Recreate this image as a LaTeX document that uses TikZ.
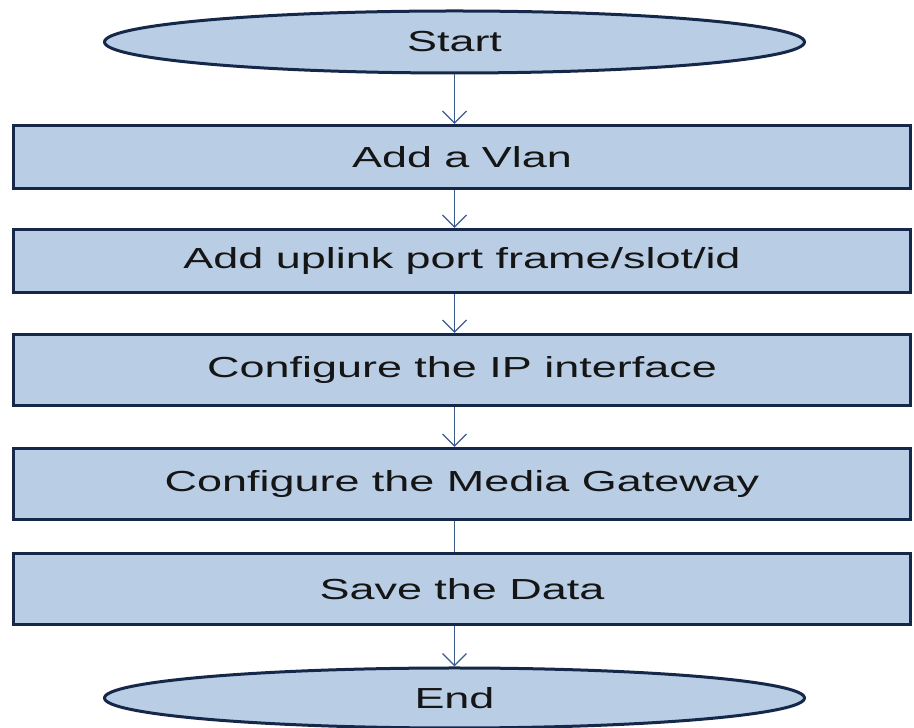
\documentclass[tikz,border=0pt]{standalone}
\usepackage{fontspec}
\newfontfamily\boxfont[FakeStretch=1.55]{Liberation Sans}
\usetikzlibrary{shapes.geometric,arrows.meta}
\definecolor{boxfill}{HTML}{B9CDE5}
\definecolor{boxline}{HTML}{15284A}
\definecolor{arrline}{HTML}{3B5A8E}
\definecolor{txt}{HTML}{151515}
\tikzset{
  stepbox/.style={draw=boxline, line width=3pt, fill=boxfill, rectangle,
    minimum width=897pt, inner sep=0pt, text=txt,
    font={\boxfont\fontsize{29}{34}\selectfont}},
  termnode/.style={draw=boxline, line width=3pt, fill=boxfill, ellipse,
    minimum width=700pt, inner sep=0pt, text=txt,
    font={\boxfont\fontsize{29}{34}\selectfont}},
  conn/.style={draw=arrline, line width=1.4pt},
  arr/.style={conn, -{Straight Barb[length=12pt,width=24pt,line width=1.4pt]}}
}
\begin{document}
\begin{tikzpicture}[x=1pt,y=1pt]
\useasboundingbox (0,0) rectangle (914,728);
\node[termnode, minimum height=62pt] (start) at (454.5,686) {Start};
\node[stepbox, minimum height=63pt] (b1) at (462,571) {Add a Vlan};
\node[stepbox, minimum height=63pt] (b2) at (462,467) {Add uplink port frame/slot/id};
\node[stepbox, minimum height=71pt] (b3) at (462,358) {Configure the IP interface};
\node[stepbox, minimum height=71pt] (b4) at (462,244) {Configure the Media Gateway};
\node[stepbox, minimum height=71pt] (b5) at (462,139) {Save the Data};
\node[termnode, minimum height=60pt] (end) at (454.5,30) {End};
\draw[arr] (start.south) -- (start.south |- b1.north);
\draw[arr] (b1.south -| start.south) -- (b2.north -| start.south);
\draw[arr] (b2.south -| start.south) -- (b3.north -| start.south);
\draw[arr] (b3.south -| start.south) -- (b4.north -| start.south);
\draw[conn] (b4.south -| start.south) -- (b5.north -| start.south);
\draw[arr] (b5.south -| start.south) -- (end.north);
\end{tikzpicture}
\end{document}
